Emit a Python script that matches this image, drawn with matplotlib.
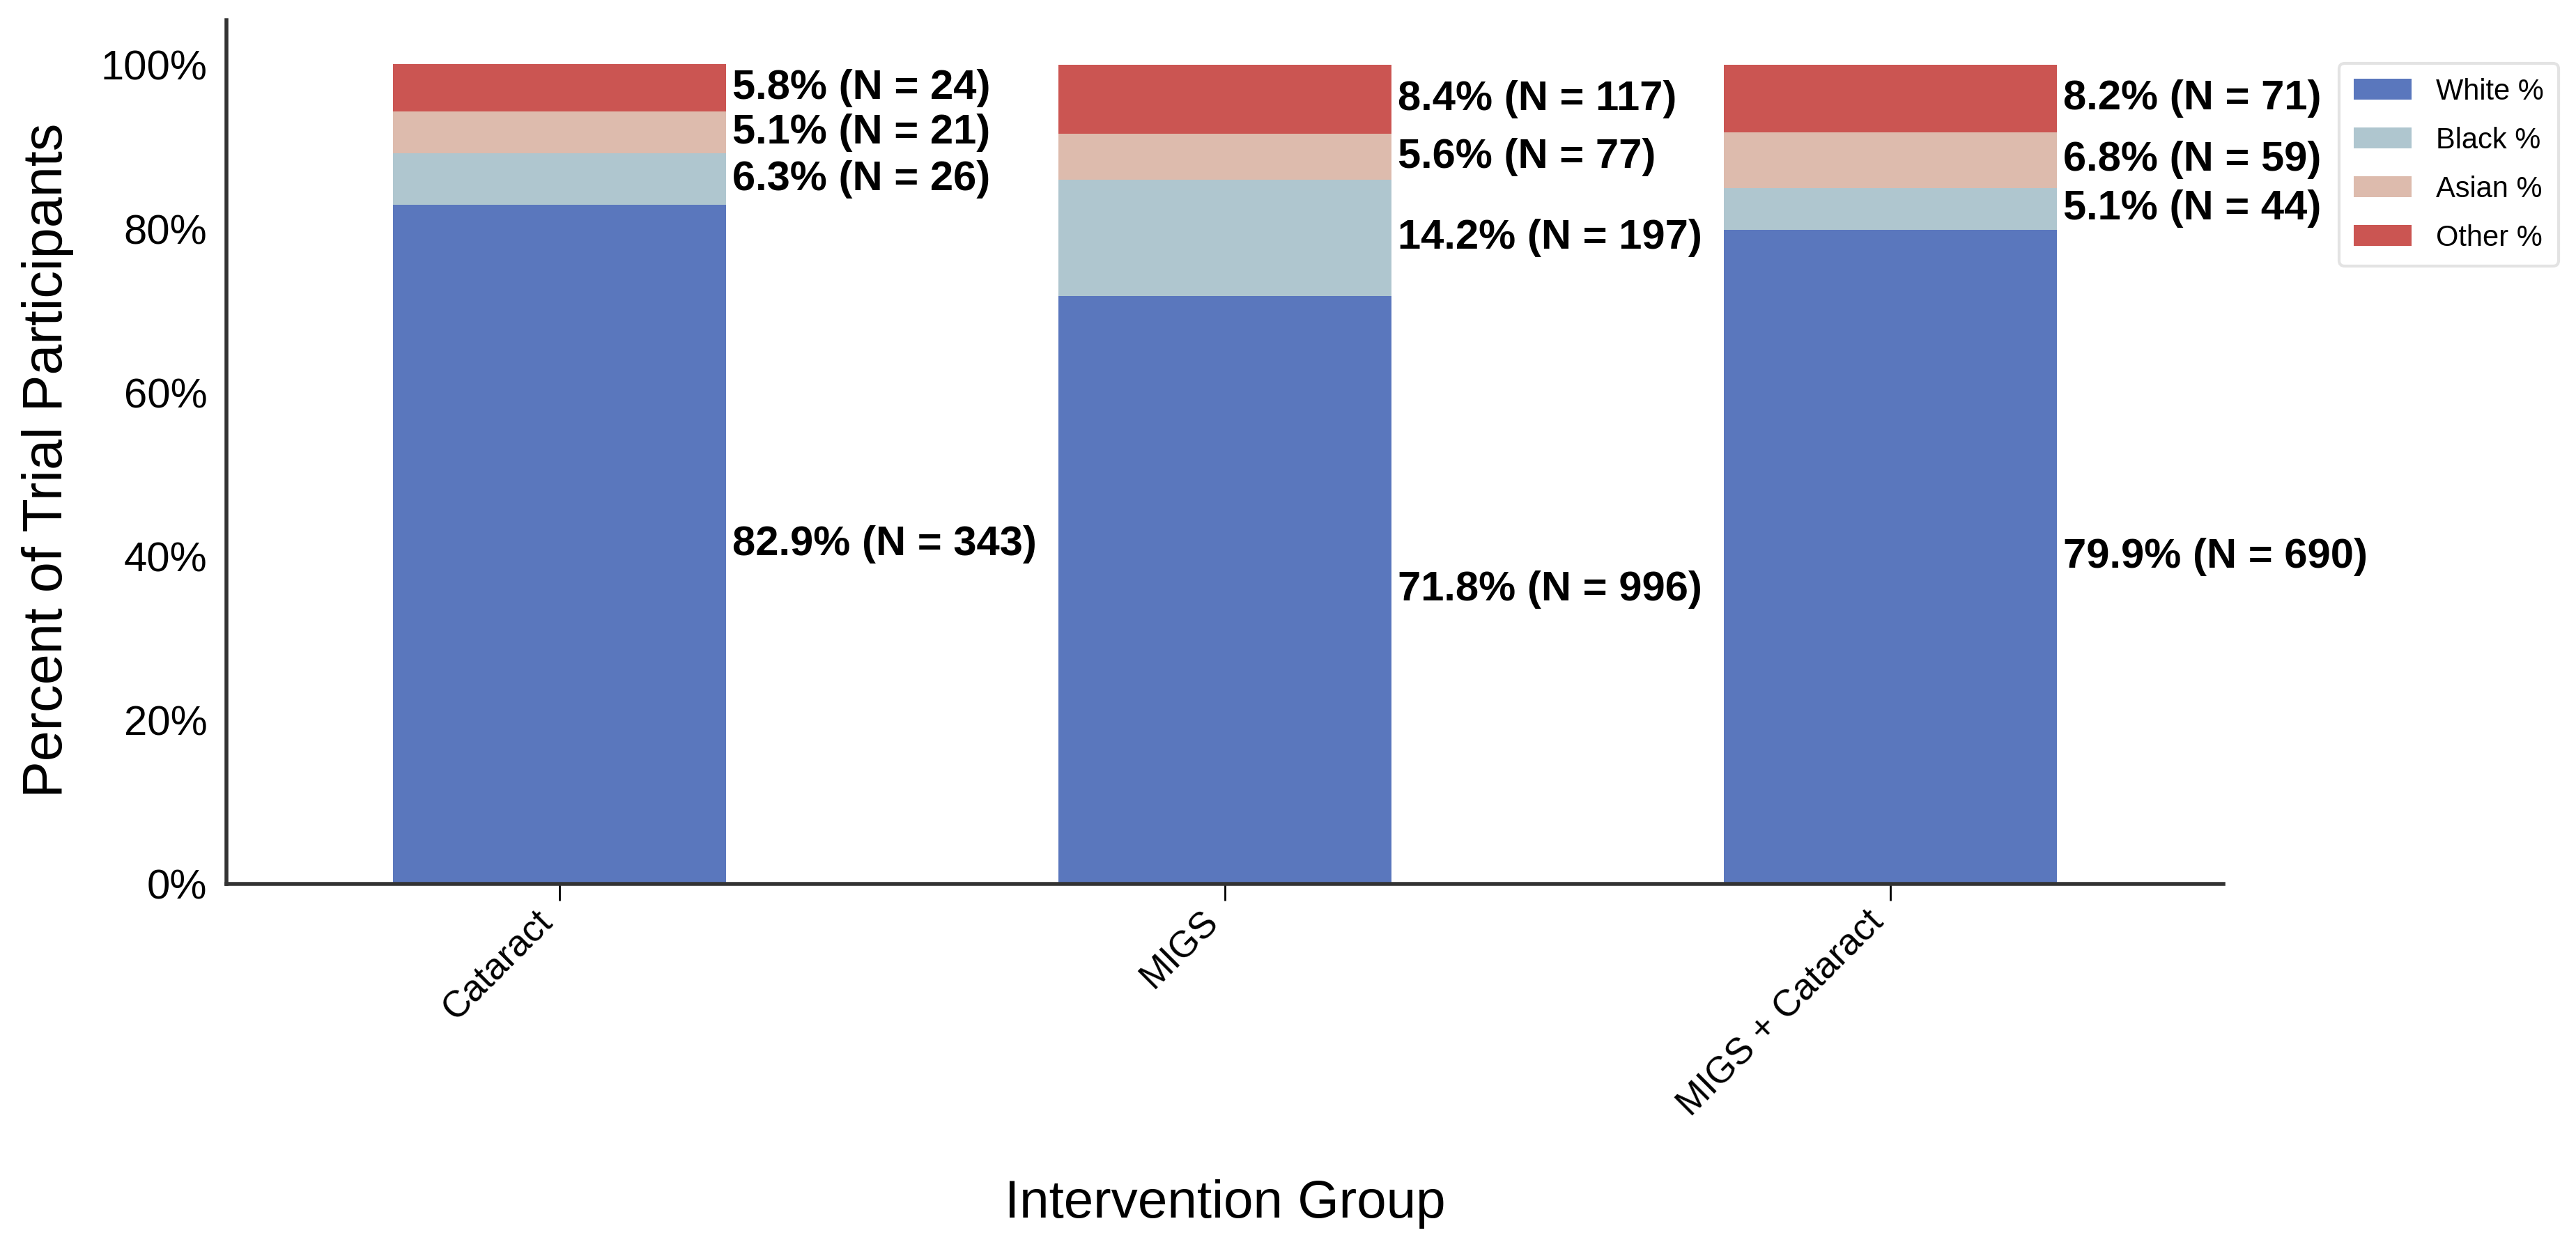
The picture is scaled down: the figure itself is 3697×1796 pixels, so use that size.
import matplotlib
matplotlib.use("Agg")
import matplotlib.pyplot as plt
import numpy as np

# data
groups = ["Cataract", "MIGS", "MIGS + Cataract"]
races = ["White %", "Black %", "Asian %", "Other %"]
white_pct = [82.9, 71.8, 79.9]
black_pct = [6.3, 14.2, 5.1]
asian_pct = [5.1, 5.6, 6.8]
other_pct = [5.8, 8.4, 8.2]
white_n = [343, 996, 690]
black_n = [26, 197, 44]
asian_n = [21, 77, 59]
other_n = [24, 117, 71]

colors = ["#5A77BD", "#AFC6CF", "#DDBBAD", "#CB5552"]

plt.rcParams["font.family"] = ["Liberation Sans", "DejaVu Sans"]

fig = plt.figure(figsize=(3697 / 200, 1796 / 200), dpi=200)
ax = fig.add_axes([0.088, 0.2934, 0.775, 0.6906])

x = np.arange(len(groups))
width = 0.5
pcts = [white_pct, black_pct, asian_pct, other_pct]
counts = [white_n, black_n, asian_n, other_n]

bottom = np.zeros(len(groups))
for pct, n, col, lab in zip(pcts, counts, colors, races):
    pct = np.array(pct)
    ax.bar(x, pct, width, bottom=bottom, color=col, label=lab, zorder=1)
    for i in range(len(groups)):
        ax.text(x[i] + width / 2 + 0.01, bottom[i] + pct[i] / 2,
                f"{pct[i]}% (N = {n[i]})", ha="left", va="center",
                fontsize=21.5, fontweight="bold", color="black")
    bottom += pct

ax.set_xlim(-0.5, 2.5)
ax.set_ylim(0, 105.5)
ax.set_yticks([0, 20, 40, 60, 80, 100])
ax.set_yticklabels([f"{v}%" for v in [0, 20, 40, 60, 80, 100]], fontsize=21.5)
ax.set_xticks(x)
ax.set_xticklabels(groups, rotation=45, ha="right", fontsize=19)

ax.tick_params(axis="y", length=0, pad=10)
ax.tick_params(axis="x", length=8.5, width=1, pad=2)

for s in ["top", "right"]:
    ax.spines[s].set_visible(False)
for s in ["left", "bottom"]:
    ax.spines[s].set_color("#333333")
    ax.spines[s].set_linewidth(2)
    ax.spines[s].set_zorder(3)

ax.set_ylabel("Percent of Trial Participants", fontsize=28.5)
ax.set_xlabel("Intervention Group", fontsize=27.5)
ax.xaxis.set_label_coords(0.5, -0.342)
ax.yaxis.set_label_coords(-0.0765, 0.49)

leg = ax.legend(loc="upper left", bbox_to_anchor=(1.058, 0.95), borderaxespad=0,
                fontsize=15, handlelength=2.0, handleheight=0.7, handletextpad=0.85,
                labelspacing=0.72, frameon=True, fancybox=True, borderpad=0.5)
leg.get_frame().set_edgecolor("#DDDDDD")
leg.get_frame().set_linewidth(1.5)

fig.savefig("out.png", dpi=200)
